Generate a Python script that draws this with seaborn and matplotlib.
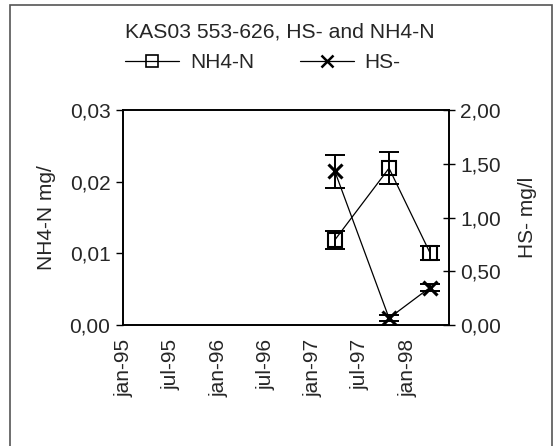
import matplotlib
matplotlib.use("Agg")
import matplotlib.pyplot as plt
from matplotlib.lines import Line2D
from matplotlib.patches import Rectangle
import seaborn as sns
import pandas as pd

sns.set_theme(style="white")
plt.rcParams['font.family'] = ['Liberation Sans', 'DejaVu Sans']

dates = ["1997-03-25", "1997-10-20", "1998-03-27"]
nh4 = [0.0119, 0.0219, 0.0101]
nh4_err = [0.0013, 0.0022, 0.0010]
hs = [1.43, 0.065, 0.35]
hs_err = [0.15, 0.03, 0.03]
tick_dates = ["1995-01-01", "1995-07-01", "1996-01-01", "1996-07-01",
              "1997-01-01", "1997-07-01", "1998-01-01"]
tick_labels = ["jan-95", "jul-95", "jan-96", "jul-96", "jan-97", "jul-97", "jan-98"]
left_ticks = [0.0, 0.01, 0.02, 0.03]
left_labels = ["0,00", "0,01", "0,02", "0,03"]
right_ticks = [0.0, 0.5, 1.0, 1.5, 2.0]
right_labels = ["0,00", "0,50", "1,00", "1,50", "2,00"]

df = pd.DataFrame({"date": pd.to_datetime(dates), "nh4": nh4, "nh4_err": nh4_err,
                   "hs": hs, "hs_err": hs_err})

FS = 15
fig = plt.figure(figsize=(5.59, 4.46), dpi=100)
ax = fig.add_axes([0.220, 0.271, 0.583, 0.482])
ax2 = ax.twinx()

# outer frame
fig.patches.append(Rectangle((10/559, -0.05), (552-10)/559, 1 - 5/446 + 0.05,
                             transform=fig.transFigure, fill=False,
                             edgecolor="#555555", linewidth=1.2))

sns.lineplot(data=df, x="date", y="nh4", ax=ax, color="black", linewidth=0.9,
             marker="s", markersize=10, markerfacecolor="none",
             markeredgecolor="black", markeredgewidth=1.5, zorder=3)
ax.errorbar(df["date"], df["nh4"], yerr=df["nh4_err"], fmt="none",
            ecolor="black", elinewidth=1.4, capsize=7, capthick=1.4, zorder=3)

sns.lineplot(data=df, x="date", y="hs", ax=ax2, color="black", linewidth=0.9,
             marker="x", markersize=10, markeredgecolor="black",
             markeredgewidth=2.2, zorder=3)
ax2.errorbar(df["date"], df["hs"], yerr=df["hs_err"], fmt="none",
             ecolor="black", elinewidth=1.4, capsize=7, capthick=1.4, zorder=3)

ax.set_xlim(pd.Timestamp("1994-12-28"), pd.Timestamp("1998-06-08"))
ax.set_ylim(0, 0.03)
ax2.set_ylim(0, 2.0)

ax.set_xticks(pd.to_datetime(tick_dates))
ax.set_xticklabels(tick_labels, rotation=90, fontsize=FS)
ax.set_yticks(left_ticks)
ax.set_yticklabels(left_labels, fontsize=FS)
ax2.set_yticks(right_ticks)
ax2.set_yticklabels(right_labels, fontsize=FS)

ax.set_xlabel("")
ax.set_ylabel("NH4-N mg/", fontsize=FS, labelpad=10)
ax2.set_ylabel("HS- mg/l", fontsize=FS, labelpad=12)

for a in (ax, ax2):
    for s in a.spines.values():
        s.set_color("black")
        s.set_linewidth(1.2)
    a.grid(False)
ax.tick_params(axis="x", direction="out", length=5, width=1, color="black", pad=5)
ax.tick_params(axis="y", direction="out", length=5, width=1, color="black", pad=4)
ax2.tick_params(axis="y", direction="inout", length=8, width=1, color="black", pad=4)

fig.text(0.5, 1 - 32/446, "KAS03 553-626, HS- and NH4-N", ha="center", va="center",
         fontsize=15.2)

handles = [Line2D([], [], color="black", linewidth=0.9, marker="s", markersize=9,
                  markerfacecolor="none", markeredgecolor="black", markeredgewidth=1.2),
           Line2D([], [], color="black", linewidth=0.9, marker="x", markersize=9,
                  markeredgecolor="black", markeredgewidth=1.8)]
fig.legend(handles, ["NH4-N", "HS-"], loc="center", bbox_to_anchor=(0.47, 1 - 63/446),
           ncol=2, frameon=False, fontsize=FS, handlelength=2.6, columnspacing=2.2,
           handletextpad=0.5)

fig.savefig("out.png", dpi=100)
